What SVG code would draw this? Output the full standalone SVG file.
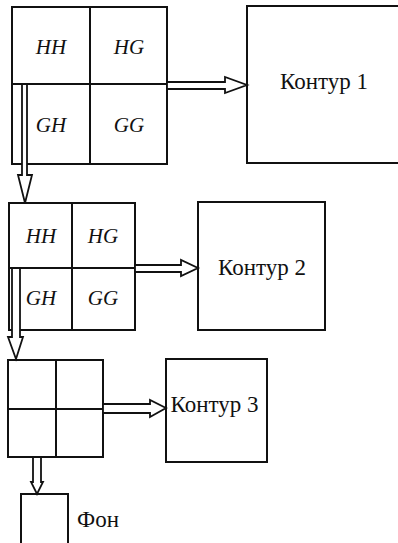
<svg xmlns="http://www.w3.org/2000/svg" width="398" height="543" viewBox="0 0 398 543">
<style>
.box{fill:#fff;stroke:#111;stroke-width:2}
.ln{stroke:#111;stroke-width:2;fill:none}
.arr{fill:#fff;stroke:#111;stroke-width:1.8;stroke-linejoin:miter}
.lbl{font-family:"Times New Roman","Liberation Serif",serif;font-size:23px;fill:#111;text-anchor:middle}
.cell{font-family:"Times New Roman","Liberation Serif",serif;font-size:21px;font-style:italic;fill:#111;text-anchor:middle}
</style>
<rect width="398" height="543" fill="#fff"/>
<g id="matrix1">
<rect class="box" x="12" y="7" width="155" height="157"/>
<line class="ln" x1="90" y1="7" x2="90" y2="164"/>
<line class="ln" x1="12" y1="84" x2="167" y2="84"/>
<text class="cell" x="51" y="54">HH</text>
<text class="cell" x="129" y="54">HG</text>
<text class="cell" x="51" y="132">GH</text>
<text class="cell" x="129" y="132">GG</text>
</g>
<g id="contour1">
<rect class="box" x="247" y="6" width="160" height="157"/>
<text class="lbl" x="324" y="89">Контур 1</text>
</g>
<g id="matrix2">
<rect class="box" x="9" y="203" width="126" height="127"/>
<line class="ln" x1="72" y1="203" x2="72" y2="330"/>
<line class="ln" x1="9" y1="268" x2="135" y2="268"/>
<text class="cell" x="41" y="243">HH</text>
<text class="cell" x="103" y="243">HG</text>
<text class="cell" x="41" y="305">GH</text>
<text class="cell" x="103" y="305">GG</text>
</g>
<g id="contour2">
<rect class="box" x="198" y="202" width="127" height="128"/>
<text class="lbl" x="262" y="275">Контур 2</text>
</g>
<g id="matrix3">
<rect class="box" x="8" y="360" width="95" height="97"/>
<line class="ln" x1="56" y1="360" x2="56" y2="457"/>
<line class="ln" x1="8" y1="409" x2="103" y2="409"/>
</g>
<g id="contour3">
<rect class="box" x="166" y="359" width="101" height="103"/>
<text class="lbl" x="214.5" y="412">Контур 3</text>
</g>
<g id="background">
<rect class="box" x="21" y="494" width="47" height="56"/>
<text class="lbl" x="77" y="527" style="text-anchor:start">Фон</text>
</g>
<g id="connectors">
<polygon class="arr" points="167,82 225,82 225,77 247,85 225,93 225,89 167,89"/>
<polygon class="arr" points="22,84 27,84 27,175 32,175 25,203 18,175 22,175"/>
<polygon class="arr" points="135,265 181,265 181,260 198,268 181,276 181,272 135,272"/>
<polygon class="arr" points="12,268 20,268 20,337 23,337 16,359 8,337 12,337"/>
<polygon class="arr" points="103,404 150,404 150,400 166,408 150,417 150,413 103,413"/>
<polygon class="arr" points="33,457 41,457 41,482 43,482 37,494 31,482 33,482"/>
</g>
</svg>
